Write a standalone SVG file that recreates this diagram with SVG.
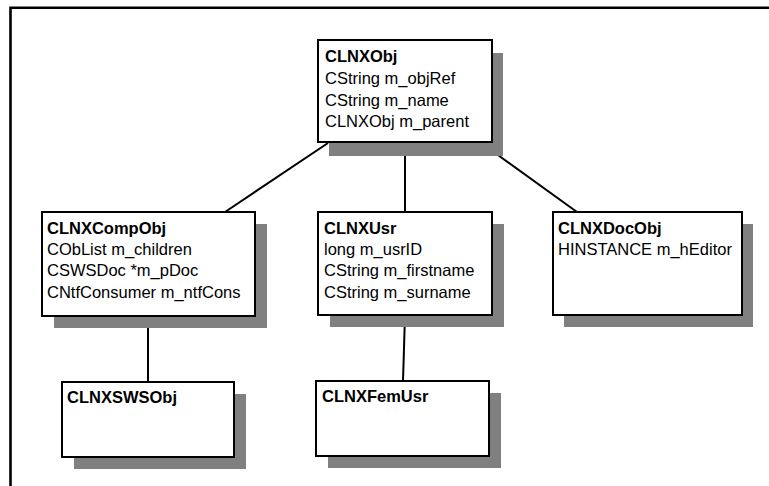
<svg xmlns="http://www.w3.org/2000/svg" width="769" height="486" viewBox="0 0 769 486">
  <style>
    .shadow { fill: #808080; }
    .box { fill: #ffffff; stroke: #000000; stroke-width: 2; }
    .title { font-family: "Liberation Sans", Arial, Helvetica, sans-serif; font-size: 16.5px; font-weight: bold; fill: #000000; }
    .attr { font-family: "Liberation Sans", Arial, Helvetica, sans-serif; font-size: 16.5px; fill: #000000; }
    .link { stroke: #000000; stroke-width: 2; fill: none; }
    .frame { stroke: #000000; stroke-width: 2.6; fill: none; }
  </style>
  <rect x="0" y="0" width="769" height="486" fill="#ffffff"/>

  <!-- page frame: only top and left edges fall inside the view -->
  <path class="frame" d="M10.5 486 V7.8 H769"/>

  <!-- inheritance links -->
  <g id="connectors">
    <line class="link" x1="328" y1="143" x2="225" y2="212"/>
    <line class="link" x1="405" y1="142" x2="405" y2="212"/>
    <line class="link" x1="480" y1="142" x2="577" y2="212"/>
    <line class="link" x1="148" y1="316" x2="148" y2="382"/>
    <line class="link" x1="405" y1="315" x2="403" y2="381"/>
  </g>

  <g id="CLNXObj">
    <rect class="shadow" x="329" y="53" width="174" height="103"/>
    <rect class="box" x="318" y="40" width="174" height="102"/>
    <text class="title" x="325" y="62">CLNXObj</text>
    <text class="attr" x="325" y="84">CString m_objRef</text>
    <text class="attr" x="325" y="105.5">CString m_name</text>
    <text class="attr" x="325" y="127">CLNXObj m_parent</text>
  </g>

  <g id="CLNXCompObj">
    <rect class="shadow" x="54" y="224" width="213" height="104"/>
    <rect class="box" x="42" y="212" width="213" height="104"/>
    <text class="title" x="47" y="233.5">CLNXCompObj</text>
    <text class="attr" x="47" y="255">CObList m_children</text>
    <text class="attr" x="47" y="276">CSWSDoc *m_pDoc</text>
    <text class="attr" x="47" y="297.5">CNtfConsumer m_ntfCons</text>
  </g>

  <g id="CLNXUsr">
    <rect class="shadow" x="330" y="224" width="174" height="103"/>
    <rect class="box" x="318" y="212" width="174" height="103"/>
    <text class="title" x="324" y="233.5">CLNXUsr</text>
    <text class="attr" x="324" y="255">long m_usrID</text>
    <text class="attr" x="324" y="276">CString m_firstname</text>
    <text class="attr" x="324" y="297.5">CString m_surname</text>
  </g>

  <g id="CLNXDocObj">
    <rect class="shadow" x="564" y="224" width="189" height="103"/>
    <rect class="box" x="553" y="212" width="189" height="103"/>
    <text class="title" x="558" y="233.5">CLNXDocObj</text>
    <text class="attr" x="558" y="255">HINSTANCE m_hEditor</text>
  </g>

  <g id="CLNXSWSObj">
    <rect class="shadow" x="74" y="394" width="172" height="75"/>
    <rect class="box" x="62" y="382" width="172" height="75"/>
    <text class="title" x="67" y="403">CLNXSWSObj</text>
  </g>

  <g id="CLNXFemUsr">
    <rect class="shadow" x="328" y="393" width="173" height="75"/>
    <rect class="box" x="316" y="381" width="173" height="75"/>
    <text class="title" x="322" y="402">CLNXFemUsr</text>
  </g>
</svg>
